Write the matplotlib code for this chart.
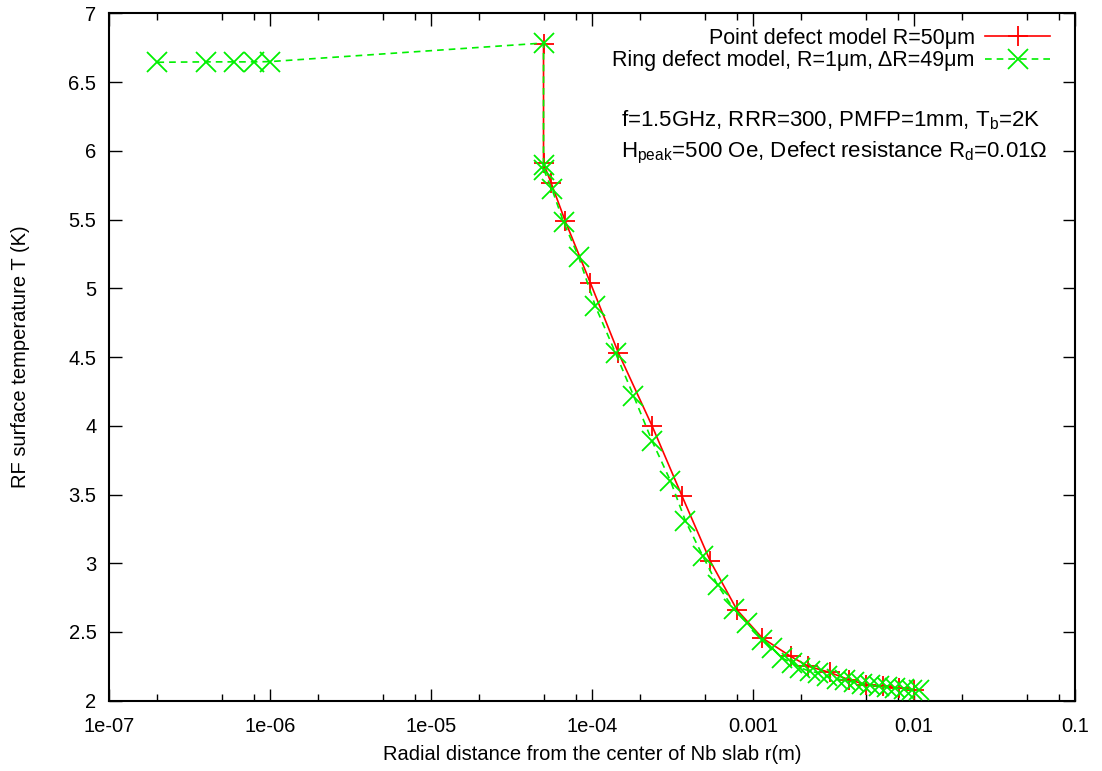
import numpy as np
import matplotlib
matplotlib.use("Agg")
import matplotlib.pyplot as plt
from matplotlib.ticker import FixedLocator, NullFormatter

plt.rcParams['font.family'] = ['Liberation Sans', 'DejaVu Sans']
plt.rcParams['mathtext.default'] = 'regular'

# —— data
r_point = [5.0e-5, 5.0e-5, 5.56e-5, 6.82e-5, 9.77e-5, 1.46e-4, 2.36e-4, 3.62e-4,
           5.43e-4, 7.96e-4, 1.14e-3, 1.71e-3, 2.21e-3, 2.99e-3, 3.93e-3,
           5.06e-3, 6.42e-3, 8.02e-3, 1.0e-2]
T_point = [6.78, 5.91, 5.77, 5.49, 5.04, 4.53, 4.00, 3.49,
           3.015, 2.66, 2.457, 2.323, 2.25, 2.206, 2.153,
           2.117, 2.104, 2.093, 2.08]

r_ring = [2e-7, 4e-7, 6e-7, 8e-7, 1e-6, 5.0e-5, 5.0e-5, 5.03e-5, 5.65e-5,
          6.67e-5, 8.26e-5, 1.05e-4, 1.40e-4, 1.81e-4, 2.36e-4, 3.07e-4,
          3.80e-4, 4.89e-4, 6.03e-4, 7.58e-4, 9.18e-4, 1.14e-3, 1.31e-3,
          1.51e-3, 1.75e-3, 1.97e-3, 2.27e-3, 2.55e-3, 2.88e-3, 3.33e-3,
          3.74e-3, 4.22e-3, 4.75e-3, 5.36e-3, 6.03e-3, 6.80e-3, 7.66e-3,
          8.61e-3, 9.72e-3, 1.07e-2]
T_ring = [6.645, 6.648, 6.648, 6.648, 6.65, 6.785, 5.90, 5.86, 5.72,
          5.48, 5.23, 4.87, 4.53, 4.22, 3.89, 3.60,
          3.31, 3.05, 2.84, 2.67, 2.566, 2.445, 2.384,
          2.311, 2.275, 2.238, 2.214, 2.202, 2.177, 2.158,
          2.148, 2.133, 2.124, 2.114, 2.104, 2.097, 2.093,
          2.087, 2.080, 2.075]

xticks = [1e-7, 1e-6, 1e-5, 1e-4, 1e-3, 1e-2, 1e-1]
xtick_labels = ['1e-07', '1e-06', '1e-05', '1e-04', '0.001', '0.01', '0.1']
yticks = [2, 2.5, 3, 3.5, 4, 4.5, 5, 5.5, 6, 6.5, 7]
ytick_labels = ['2', '2.5', '3', '3.5', '4', '4.5', '5', '5.5', '6', '6.5', '7']

fig = plt.figure(figsize=(11.02, 7.71), dpi=100)
ax = fig.add_axes([0.0989, 0.0912, 0.8766, 0.8913])

ax.plot(r_point, T_point, color='#ff0000', lw=1.2, marker='+', ms=15,
        mew=1.3, label='Point defect model R=50μm', zorder=2)
ax.plot(r_ring, T_ring, color='#00f000', lw=1.2, ls=(0, (4, 3)), marker='x',
        ms=14, mew=1.3, label='Ring defect model, R=1μm, ΔR=49μm', zorder=3)

ax.set_xscale('log')
ax.set_xlim(1e-7, 1e-1)
ax.set_ylim(2, 7)
ax.xaxis.set_major_locator(FixedLocator(xticks))
ax.set_xticklabels(xtick_labels)
minors = [m * 10.0 ** e for e in range(-7, -1) for m in (2, 5, 8)]
ax.xaxis.set_minor_locator(FixedLocator(minors))
ax.xaxis.set_minor_formatter(NullFormatter())
ax.set_yticks(yticks)
ax.set_yticklabels(ytick_labels)

ax.tick_params(which='both', direction='in', top=True, right=True,
               labelsize=14.5, width=1, colors='black')
ax.tick_params(which='major', length=9)
ax.tick_params(which='minor', length=5)
ax.tick_params(axis='x', which='major', pad=12)
ax.tick_params(axis='y', which='major', pad=9)
for sp in ax.spines.values():
    sp.set_linewidth(1.5)

ax.set_xlabel('Radial distance from the center of Nb slab r(m)', fontsize=14.5)
ax.set_ylabel('RF surface temperature T (K)', fontsize=14.5)
ax.xaxis.set_label_coords(0.5, -0.064)
ax.yaxis.set_label_coords(-0.082, 0.5)

ax.legend(loc='upper right', bbox_to_anchor=(0.983, 0.992), frameon=False,
          markerfirst=False, fontsize=15.5, handlelength=3.0,
          handletextpad=0.5, labelspacing=0.08, borderaxespad=0)

ax.text(0.530, 0.8350, 'f=1.5GHz, RRR=300, PMFP=1mm, T$_b$=2K',
        transform=ax.transAxes, fontsize=16, ha='left', va='baseline')
ax.text(0.530, 0.7912, 'H$_{peak}$=500 Oe, Defect resistance R$_d$=0.01Ω',
        transform=ax.transAxes, fontsize=16, ha='left', va='baseline')

fig.savefig('out.png', dpi=100)
